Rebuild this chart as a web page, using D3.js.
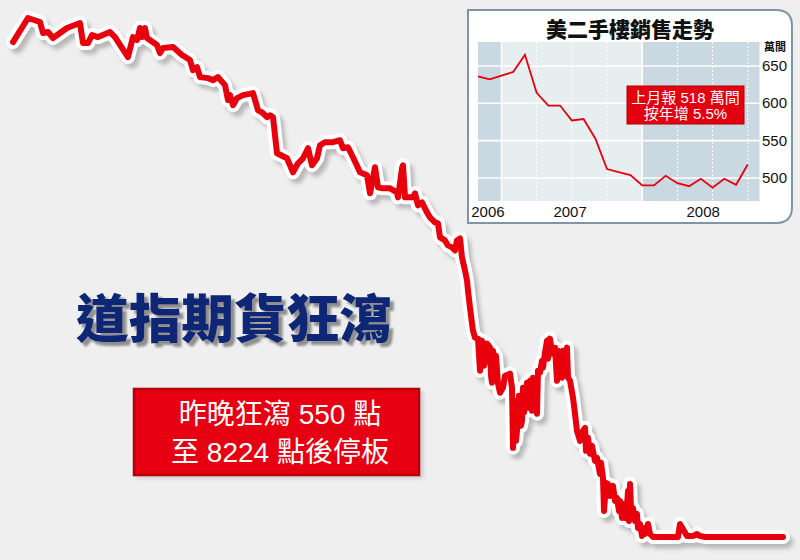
<!DOCTYPE html>
<html><head><meta charset="utf-8">
<script src="https://cdn.jsdelivr.net/npm/d3@7"></script>
<style>html,body{margin:0;padding:0;background:#efefef;}svg{display:block;}</style>
</head><body>
<svg id="c" width="800" height="560"></svg>
<script>
// ---- Main Dow futures line (trading-day index, index level) ----
const mainDay = [0,15,27,30,35,40,54,67,70,75,79,85,97,102,115,120,124,127,129,132,134,144,147,150,160,169,177,180,184,187,195,200,205,212,215,217,220,224,230,240,245,250,254,257,260,264,274,280,285,290,295,299,304,307,312,320,327,330,335,340,347,354,357,362,365,370,377,384,385,389,390,392,400,402,405,409,414,417,422,425,427,432,435,439,442,444,447,449,452,454,455,457,459,460,462,465,467,468,469,471,472,474,477,478,479,480,482,483,485,487,490,492,497,499,500,501,502,503,504,506,507,508,509,510,511,512,514,515,517,518,519,520,522,523,524,525,527,529,530,532,534,535,537,539,540,542,544,545,547,549,550,552,554,555,557,560,562,564,567,570,572,573,575,577,579,580,582,584,587,588,590,591,592,593,595,597,600,602,604,606,607,609,610,612,614,615,616,617,618,620,622,624,625,627,629,630,632,635,637,640,665,667,670,674,680,684,687,692,770];
const mainLevel = [13164,13404,13364,13254,13264,13204,13304,13354,13154,13154,13234,13214,13264,13214,13014,13214,13184,13304,13214,13304,13204,13134,13054,13104,13114,13034,12984,12884,12914,12814,12804,12784,12814,12734,12584,12634,12534,12604,12634,12654,12484,12454,12414,12434,12414,12054,12004,11864,11954,12004,12104,11934,12004,12134,12164,12164,12184,12104,12114,12014,11864,11834,11654,11914,11714,11704,11704,11664,11614,11904,11934,11614,11614,11654,11534,11564,11464,11414,11364,11354,11214,11184,11134,11114,11084,11184,11204,11014,10884,10784,10684,10514,10354,10284,10214,10204,9884,10134,10184,9934,9984,10154,10114,9834,9764,10084,9914,10034,9754,9664,9714,9834,9854,9714,9114,9384,9584,9184,9284,9634,9514,9334,9384,9714,9464,9554,9764,9514,9784,9564,9484,9814,9664,9534,9454,9884,9864,9984,9914,10064,10184,10004,10204,10054,10114,10114,9784,10084,9864,9814,10084,10034,10114,9814,9784,9614,9454,9284,9184,9284,9314,9084,9214,9054,9134,9084,8984,9014,8854,8964,8814,8484,8614,8764,8754,8634,8734,8584,8614,8484,8584,8414,8554,8414,8534,8684,8384,8754,8514,8514,8384,8454,8314,8354,8234,8314,8254,8354,8254,8224,8224,8354,8304,8234,8234,8254,8234,8224,8224];

const headline = "道指期貨狂瀉";
const noteLines = ["昨晚狂瀉 550 點", "至 8224 點後停板"];

// ---- Inset: US existing home sales (10k units, annual rate) ----
const insetTitle = "美二手樓銷售走勢";
const insetUnit = "萬間";
const salesMonth = [0,1,2,3,4,5,6,7,8,9,10,11,12,13,14,15,16,17,18,19,20,21,22,23];
const salesValue = [636,632,637,642,665,614,597,597,577,579,553,512,508,504,490,490,503,493,489,499,487,499,491,518];
const yTicks = [500,550,600,650];
const yearLabels = ["2006","2007","2008"];
const yearLabelPos = [0.85,7.85,19.2];
const yearBands = [[0,2,"dark"],[2,14,"light"],[14,24,"dark"]];
const yearLines = [2,14];
const quarterLines = [5,8,11,17,20,23];
const insetNote = ["上月報 518 萬間","按年增 5.5%"];

const svg = d3.select("#c");
const defs = svg.append("defs");
const f = defs.append("filter").attr("id","blur").attr("x","-10%").attr("y","-10%").attr("width","120%").attr("height","120%");
f.append("feGaussianBlur").attr("stdDeviation",2.2);
// headline drop shadow filter
const f2 = defs.append("filter").attr("id","tshadow").attr("x","-5%").attr("y","-20%").attr("width","115%").attr("height","150%");
f2.append("feGaussianBlur").attr("in","SourceAlpha").attr("stdDeviation",0.8).attr("result","b");
f2.append("feOffset").attr("in","b").attr("dx",4).attr("dy",4).attr("result","o");
f2.append("feFlood").attr("flood-color","#8f8f8f").attr("result","c");
f2.append("feComposite").attr("in","c").attr("in2","o").attr("operator","in").attr("result","s");
const fm = f2.append("feMerge");
fm.append("feMergeNode").attr("in","s");
fm.append("feMergeNode").attr("in","SourceGraphic");

svg.append("rect").attr("width",800).attr("height",560).attr("fill","#efefef");

// main line
const x = d3.scaleLinear().domain([0,770]).range([13,783]);
const y = d3.scaleLinear().domain([8224,13404]).range([537,18]);
const pts = mainDay.map((d,i)=>[d,mainLevel[i]]);
const line = d3.line().x(d=>x(d[0])).y(d=>y(d[1]));
const g = svg.append("g");
g.append("path").attr("d",line(pts)).attr("transform","translate(4,5)")
  .attr("fill","none").attr("stroke","#b8b8b8").attr("stroke-width",13)
  .attr("stroke-linejoin","round").attr("stroke-linecap","round").attr("filter","url(#blur)");
g.append("path").attr("d",line(pts)).attr("fill","none").attr("stroke","#ffffff")
  .attr("stroke-width",14).attr("stroke-linejoin","round").attr("stroke-linecap","round");
g.append("path").attr("d",line(pts)).attr("fill","none").attr("stroke","#e8000d")
  .attr("stroke-width",6).attr("stroke-linejoin","round").attr("stroke-linecap","round");

// headline
const hf = "'Noto Sans CJK TC','Noto Sans CJK SC',sans-serif";
svg.append("text").attr("x",76).attr("y",338).text(headline)
  .attr("font-family",hf).attr("font-weight",900).attr("font-size",52)
  .attr("textLength",316).attr("lengthAdjust","spacingAndGlyphs")
  .attr("fill","#0a2574").attr("filter","url(#tshadow)");

// red note box
svg.append("rect").attr("x",136).attr("y",391).attr("width",287).attr("height",87).attr("fill","#c9c9c9").attr("filter","url(#blur)");
svg.append("rect").attr("x",134).attr("y",389).attr("width",285).attr("height",86)
  .attr("fill","#e60012").attr("stroke","#b4000b").attr("stroke-width",2.5);
const nf = "'Liberation Sans','Noto Sans CJK TC',sans-serif";
svg.selectAll("text.note").data(noteLines).enter().append("text").attr("class","note")
  .attr("x",280).attr("y",(d,i)=>424+i*38).attr("text-anchor","middle")
  .attr("font-family",nf).attr("font-size",28).attr("fill","#ffffff").text(d=>d);

// inset panel
const L=468,T=10,R=792,B=223,rad=16;
svg.append("path").attr("d",`M${L},${T}H${R-rad}Q${R},${T} ${R},${T+rad}V${B-rad}Q${R},${B} ${R-rad},${B}H${L}Z`)
  .attr("fill","#ffffff").attr("stroke","#7f95a6").attr("stroke-width",2);
const ix = d3.scaleLinear().domain([0,24]).range([478,759.5]);
const iy = d3.scaleLinear().domain([469.2,682.1]).range([201,42]);
const ig = svg.append("g");
ig.selectAll("rect.band").data(yearBands).enter().append("rect")
  .attr("x",d=>ix(d[0])).attr("width",d=>ix(d[1])-ix(d[0]))
  .attr("y",iy.range()[1]).attr("height",iy.range()[0]-iy.range()[1])
  .attr("fill",d=>d[2]==="dark"?"#c9d8e1":"#e6eef0");
ig.selectAll("line.h").data(yTicks).enter().append("line")
  .attr("x1",ix(0)).attr("x2",ix(24)).attr("y1",d=>iy(d)).attr("y2",d=>iy(d))
  .attr("stroke","#ffffff").attr("stroke-width",1.6);
ig.selectAll("line.yl").data(yearLines).enter().append("line")
  .attr("x1",d=>ix(d)).attr("x2",d=>ix(d)).attr("y1",42).attr("y2",201)
  .attr("stroke","#ffffff").attr("stroke-width",1.6);
ig.selectAll("line.q").data(quarterLines).enter().append("line")
  .attr("x1",d=>ix(d)).attr("x2",d=>ix(d)).attr("y1",42).attr("y2",201)
  .attr("stroke","#ffffff").attr("stroke-width",1).attr("stroke-dasharray","2,2");
ig.append("path").attr("d",d3.line().x((d,i)=>ix(salesMonth[i])).y(d=>iy(d))(salesValue))
  .attr("fill","none").attr("stroke","#e8000d").attr("stroke-width",1.8);
// y tick labels
const af = "'Liberation Sans',Arial,sans-serif";
ig.selectAll("text.yt").data(yTicks).enter().append("text")
  .attr("x",762).attr("y",d=>iy(d)+5).text(d=>d)
  .attr("font-family",af).attr("font-size",15).attr("fill","#111");
ig.append("text").attr("x",764).attr("y",51).text(insetUnit)
  .attr("font-family",hf).attr("font-weight",700).attr("font-size",11).attr("fill","#111");
ig.selectAll("text.yr").data(yearLabels).enter().append("text")
  .attr("x",(d,i)=>ix(yearLabelPos[i])).attr("y",217).attr("text-anchor","middle").text(d=>d)
  .attr("font-family",af).attr("font-size",15).attr("fill","#111");
ig.append("text").attr("x",630).attr("y",37).attr("text-anchor","middle").text(insetTitle)
  .attr("font-family",hf).attr("font-weight",900).attr("font-size",21).attr("fill","#111");
// inset note
ig.append("rect").attr("x",627).attr("y",86).attr("width",117).attr("height",38)
  .attr("fill","#e3000f").attr("stroke","#b0000a").attr("stroke-width",1);
ig.selectAll("text.in").data(insetNote).enter().append("text")
  .attr("x",685.5).attr("y",(d,i)=>103+i*16).attr("text-anchor","middle").text(d=>d)
  .attr("font-family",nf).attr("font-size",15).attr("fill","#ffffff");
</script>
</body></html>
